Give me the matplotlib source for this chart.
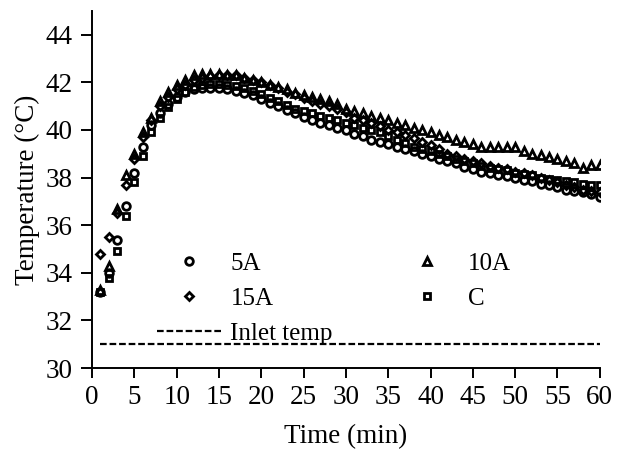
import matplotlib
matplotlib.use("Agg")
import matplotlib.pyplot as plt
import numpy as np

plt.rcParams['font.family'] = ['Liberation Serif', 'DejaVu Serif']

# time in minutes, one reading per minute
time = np.arange(1, 61)

temp_5a = [33.2, 34.0, 35.4, 36.8, 38.2, 39.3, 40.2, 40.7, 41.1, 41.4,
           41.6, 41.7, 41.75, 41.75, 41.75, 41.7, 41.65, 41.55, 41.45, 41.3,
           41.15, 41.0, 40.85, 40.7, 40.55, 40.4, 40.3, 40.2, 40.1, 40.0,
           39.85, 39.75, 39.6, 39.5, 39.4, 39.3, 39.2, 39.1, 39.0, 38.9,
           38.8, 38.7, 38.6, 38.45, 38.35, 38.25, 38.2, 38.1, 38.05, 38.0,
           37.9, 37.85, 37.75, 37.7, 37.6, 37.5, 37.45, 37.4, 37.3, 37.2]

temp_10a = [33.3, 34.3, 36.7, 38.1, 39.0, 39.9, 40.5, 41.2, 41.6, 41.9,
            42.1, 42.3, 42.35, 42.35, 42.35, 42.3, 42.3, 42.2, 42.1, 42.0,
            41.9, 41.8, 41.7, 41.55, 41.45, 41.4, 41.3, 41.2, 41.1, 40.9,
            40.8, 40.7, 40.6, 40.5, 40.4, 40.3, 40.2, 40.1, 40.0, 39.9,
            39.8, 39.7, 39.6, 39.5, 39.4, 39.3, 39.3, 39.3, 39.3, 39.3,
            39.1, 39.0, 38.95, 38.85, 38.8, 38.7, 38.6, 38.4, 38.55, 38.55]

temp_15a = [34.8, 35.5, 36.5, 37.7, 38.8, 39.7, 40.4, 41.0, 41.4, 41.7,
            41.9, 42.1, 42.2, 42.25, 42.3, 42.3, 42.3, 42.2, 42.1, 42.0,
            41.9, 41.75, 41.6, 41.5, 41.35, 41.2, 41.1, 41.0, 40.9, 40.75,
            40.5, 40.4, 40.3, 40.15, 40.0, 39.9, 39.8, 39.65, 39.5, 39.35,
            39.2, 39.0, 38.9, 38.8, 38.7, 38.6, 38.5, 38.4, 38.35, 38.25,
            38.2, 38.1, 38.0, 37.9, 37.8, 37.7, 37.6, 37.5, 37.45, 37.4]

temp_c = [33.2, 33.8, 34.9, 36.4, 37.8, 38.9, 39.9, 40.5, 40.95, 41.3,
          41.6, 41.8, 41.9, 41.95, 41.95, 41.9, 41.85, 41.75, 41.65, 41.5,
          41.35, 41.2, 41.05, 40.9, 40.8, 40.7, 40.6, 40.5, 40.4, 40.3,
          40.2, 40.1, 40.0, 39.9, 39.75, 39.6, 39.45, 39.3, 39.2, 39.1,
          39.0, 38.9, 38.8, 38.7, 38.6, 38.5, 38.4, 38.35, 38.3, 38.2,
          38.15, 38.1, 38.0, 37.95, 37.9, 37.85, 37.8, 37.75, 37.7, 37.7]

inlet_temp = 31.0

fig = plt.figure(figsize=(6.3, 4.55), dpi=100)
ax = fig.add_axes([0.146, 0.191, 0.806, 0.785])

mk = dict(linestyle='none', color='black', markerfacecolor='none',
          markeredgewidth=2.0)
ax.plot(time, temp_5a, marker='o', markersize=5.5, label='5A', **mk)
ax.plot(time, temp_15a, marker='D', markersize=4.3, label='15A', **mk)
ax.plot(time, [inlet_temp] * len(time), color='black', linewidth=1.6,
        linestyle=(0, (3, 1.3)), label='Inlet temp')
ax.plot(time, temp_10a, marker='^', markersize=5.5, label='10A', **mk)
ax.plot(time, temp_c, marker='s', markersize=5, label='C', **mk)

ax.set_xlim(0, 60)
ax.set_ylim(30, 45)
ax.set_xticks(np.arange(0, 61, 5))
ax.set_yticks(np.arange(30, 45, 2))

for side in ['top', 'right']:
    ax.spines[side].set_visible(False)
for side in ['left', 'bottom']:
    ax.spines[side].set_linewidth(1.4)
ax.tick_params(direction='out', width=1.4, labelsize=19.5)
ax.tick_params(axis='x', length=7, pad=5)
ax.tick_params(axis='y', length=8, pad=6)

ax.set_xlabel('Time (min)', fontsize=19.5, labelpad=10)
ax.set_ylabel('Temperature (°C)', fontsize=19.5, labelpad=4)

ax.legend(loc='upper left', bbox_to_anchor=(0.128, 0.325), ncol=2,
          frameon=False, fontsize=18, handlelength=2.6, handletextpad=0.34,
          columnspacing=2.46, labelspacing=0.5, borderpad=0, borderaxespad=0)

fig.savefig('out.png', dpi=100)
